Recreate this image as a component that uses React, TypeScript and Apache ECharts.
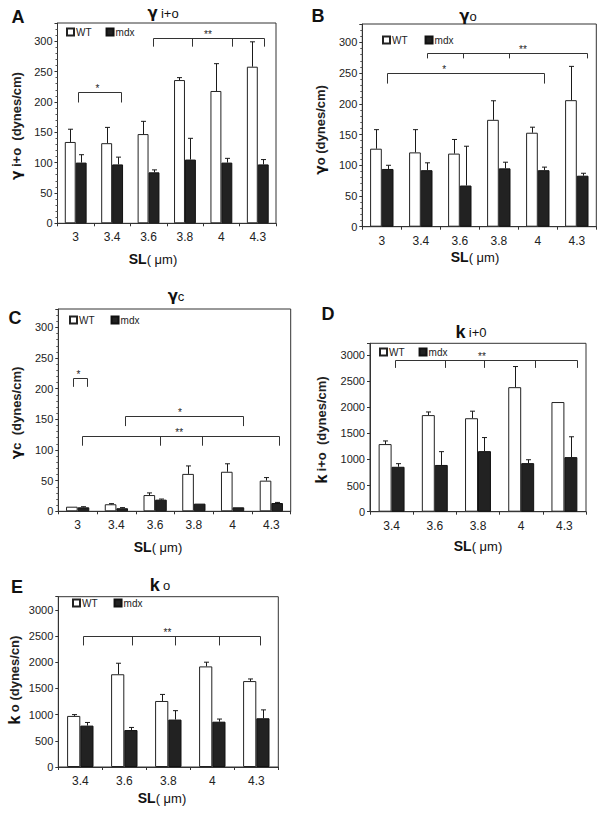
import React, { useEffect, useRef } from 'react';
import * as echarts from 'echarts';

const CATS_6 = ['3', '3.4', '3.6', '3.8', '4', '4.3'];
const CATS_5 = ['3.4', '3.6', '3.8', '4', '4.3'];

// Panel A: gamma i+o
const A_WT = [134, 132, 147, 236, 218, 258];
const A_WT_ERR = [155, 158, 168, 240, 263, 299];
const A_MDX = [100, 97, 84, 105, 100, 97];
const A_MDX_ERR = [113, 109, 88, 140, 107, 105];

// Panel B: gamma o
const B_WT = [127, 121, 119, 174, 153, 206];
const B_WT_ERR = [158, 158, 142, 205, 162, 261];
const B_MDX = [94, 92, 67, 95, 92, 83];
const B_MDX_ERR = [100, 104, 131, 105, 97, 87];

// Panel C: gamma c
const C_WT = [7.5, 11.5, 26.5, 61, 64.5, 50];
const C_WT_ERR = [8, 12.5, 30, 74, 77.5, 55];
const C_MDX = [6.5, 5, 19, 12.5, 6.5, 13.5];
const C_MDX_ERR = [7.5, 6, 20, 12.5, 6.5, 14.5];

// Panel D: k i+o
const D_WT = [1295, 1850, 1790, 2385, 2100];
const D_WT_ERR = [1355, 1910, 1925, 2780, 2100];
const D_MDX = [860, 895, 1160, 930, 1045];
const D_MDX_ERR = [920, 1150, 1420, 995, 1435];

// Panel E: k o
const E_WT = [975, 1770, 1260, 1920, 1640];
const E_WT_ERR = [1000, 1980, 1385, 2000, 1680];
const E_MDX = [790, 705, 905, 865, 930];
const E_MDX_ERR = [850, 755, 1075, 915, 1090];

// Significance brackets: tick positions in category units, bracket level, drop level, star
const BR_A = [
  { ticks: [0.07, 1.23], y: 216, drop: 199, star: '*', sx: 0.6 },
  { ticks: [2.13, 3.2, 4.29, 5.18], y: 305, drop: 291, star: '**', sx: 3.63 },
];
const BR_B = [
  { ticks: [0.14, 4.17], y: 250, drop: 233, star: '*', sx: 1.6 },
  { ticks: [1.15, 2.08, 3.26, 5.26], y: 283, drop: 274, star: '**', sx: 3.62 },
];
const BR_C = [
  { ticks: [-0.11, 0.24], y: 218, drop: 203, star: '*', sx: 0.02 },
  { ticks: [1.21, 4.28], y: 156, drop: 139, star: '*', sx: 2.64 },
  { ticks: [0.11, 2.13, 3.2, 5.2], y: 123, drop: 107, star: '**', sx: 2.62 },
];
const BR_D = [
  { ticks: [0.09, 1.24, 2.15, 3.32, 4.29], y: 2914, drop: 2754, star: '**', sx: 2.09 },
];
const BR_E = [
  { ticks: [0.05, 1.18, 2.15, 3.16, 4.08], y: 2500, drop: 2320, star: '**', sx: 1.98 },
];

const FONT = '"Liberation Sans", Arial, sans-serif';
const GFONT = '"DejaVu Sans", "Liberation Sans", sans-serif';
const INK = '#1a1a1a';

type Panel = {
  cats: string[];
  wt: number[]; wtErr: number[]; mdx: number[]; mdxErr: number[];
  brackets: { ticks: number[]; y: number; drop: number; star: string; sx: number }[];
  grid: { left: number; top: number; width: number; height: number };
  max: number; interval: number; minor: boolean;
  legend: { left: number; top: number; gap: number };
};

const PANELS: Panel[] = [
  {
    cats: CATS_6, wt: A_WT, wtErr: A_WT_ERR, mdx: A_MDX, mdxErr: A_MDX_ERR, brackets: BR_A,
    grid: { left: 57.5, top: 23, width: 218.5, height: 200.3 }, max: 330, interval: 50, minor: true,
    legend: { left: 66, top: 27, gap: 14 },
  },
  {
    cats: CATS_6, wt: B_WT, wtErr: B_WT_ERR, mdx: B_MDX, mdxErr: B_MDX_ERR, brackets: BR_B,
    grid: { left: 362.3, top: 24, width: 234, height: 202.7 }, max: 330, interval: 50, minor: true,
    legend: { left: 382, top: 35, gap: 17 },
  },
  {
    cats: CATS_6, wt: C_WT, wtErr: C_WT_ERR, mdx: C_MDX, mdxErr: C_MDX_ERR, brackets: BR_C,
    grid: { left: 58.3, top: 309, width: 232.4, height: 202.3 }, max: 330, interval: 50, minor: true,
    legend: { left: 69, top: 315, gap: 16 },
  },
  {
    cats: CATS_5, wt: D_WT, wtErr: D_WT_ERR, mdx: D_MDX, mdxErr: D_MDX_ERR, brackets: BR_D,
    grid: { left: 370, top: 343.3, width: 216, height: 168.4 }, max: 3225, interval: 500, minor: false,
    legend: { left: 379, top: 347, gap: 14 },
  },
  {
    cats: CATS_5, wt: E_WT, wtErr: E_WT_ERR, mdx: E_MDX, mdxErr: E_MDX_ERR, brackets: BR_E,
    grid: { left: 58.3, top: 596.7, width: 220, height: 170.3 }, max: 3250, interval: 500, minor: false,
    legend: { left: 72, top: 598, gap: 16 },
  },
];

function errorRenderer(offset: number) {
  return (params: any, api: any) => {
    const p0 = api.coord([api.value(0), api.value(1)]);
    const p1 = api.coord([api.value(0), api.value(2)]);
    if (p1[1] >= p0[1] - 0.5) return null;
    const band = api.size([1, 0])[0];
    const x = Math.round(p0[0] + offset * band) + 0.5;
    const style = { stroke: INK, lineWidth: 1 };
    return {
      type: 'group',
      children: [
        { type: 'line', shape: { x1: x, y1: p0[1], x2: x, y2: p1[1] }, style },
        { type: 'line', shape: { x1: x - 2.5, y1: p1[1], x2: x + 2.5, y2: p1[1] }, style },
      ],
    };
  };
}

function bracketRenderer(brs: Panel['brackets']) {
  return (params: any, api: any) => {
    const b = brs[params.dataIndex];
    const band = api.size([1, 0])[0];
    const base = api.coord([0, b.y]);
    const yTop = Math.round(base[1]) + 0.5;
    const yDrop = api.coord([0, b.drop])[1];
    const xs = b.ticks.map((t) => Math.round(base[0] + t * band) + 0.5);
    const style = { stroke: '#333', lineWidth: 1 };
    const children: any[] = [
      { type: 'line', shape: { x1: xs[0], y1: yTop, x2: xs[xs.length - 1], y2: yTop }, style },
    ];
    xs.forEach((x) => {
      children.push({ type: 'line', shape: { x1: x, y1: yTop, x2: x, y2: yDrop }, style });
    });
    children.push({
      type: 'text',
      x: base[0] + b.sx * band,
      y: yTop - 4,
      style: { text: b.star, fill: '#222', fontSize: 10, fontFamily: FONT, align: 'center', verticalAlign: 'middle' },
    });
    return { type: 'group', children };
  };
}

const g = { fontSize: 15, fontWeight: 'bold', fontFamily: GFONT, fill: '#111' };
const sub = { fontSize: 13, fontFamily: FONT, fill: '#111' };
const kStyle = { fontSize: 18, fontWeight: 'bold', fontFamily: FONT, fill: '#111' };

function txt(x: number, y: number, text: string, rich: any, rotation = 0) {
  return {
    type: 'text', x, y, rotation,
    style: { text, rich, align: 'center', verticalAlign: 'middle', fontFamily: FONT, fill: '#111' },
  };
}

function letter(x: number, y: number, t: string) {
  return {
    type: 'text', x, y,
    style: { text: t, fontSize: 18, fontWeight: 'bold', fontFamily: FONT, fill: '#111', align: 'center', verticalAlign: 'middle' },
  };
}

const nameRich = {
  g: { fontSize: 14, fontWeight: 'bold', fontFamily: GFONT, fill: '#111' },
  k: { fontSize: 16, fontWeight: 'bold', fontFamily: FONT, fill: '#111' },
  r: { fontSize: 13, fontWeight: 'bold', fontFamily: FONT, fill: '#222' },
};
const slRich = {
  b: { fontSize: 14, fontWeight: 'bold', fontFamily: FONT, fill: '#111' },
  r: { fontSize: 13, fontFamily: FONT, fill: '#111' },
};

export default function App() {
  const ref = useRef<HTMLDivElement>(null);
  useEffect(() => {
    document.body.style.margin = '0';
    if (!ref.current) return;
    const chart = echarts.init(ref.current, null, { renderer: 'svg' });

    const grid: any[] = [];
    const xAxis: any[] = [];
    const yAxis: any[] = [];
    const series: any[] = [];
    const legend: any[] = [];

    PANELS.forEach((p, i) => {
      grid.push({ ...p.grid, show: true, borderColor: '#333', borderWidth: 1, backgroundColor: 'transparent' });
      xAxis.push({
        type: 'category', gridIndex: i, data: p.cats,
        axisLine: { lineStyle: { color: '#333', width: 1 } },
        axisTick: { show: true, length: 3, lineStyle: { color: '#333' } },
        axisLabel: { fontSize: 12, color: '#222', margin: 8, fontFamily: FONT },
      });
      yAxis.push({
        type: 'value', gridIndex: i, min: 0, max: p.max, interval: p.interval,
        axisLine: { show: true, lineStyle: { color: '#333', width: 1 } },
        axisTick: { show: true, length: 3, lineStyle: { color: '#333' } },
        minorTick: { show: p.minor, splitNumber: 5, length: 2, lineStyle: { color: '#555' } },
        splitLine: { show: false },
        axisLabel: {
          fontSize: 11, color: '#222', margin: 5, fontFamily: FONT,
          formatter: (v: number) => (v % p.interval === 0 ? String(v) : ''),
        },
      });
      series.push({
        name: 'WT', type: 'bar', xAxisIndex: i, yAxisIndex: i, data: p.wt,
        barWidth: '30%', barGap: '0%',
        itemStyle: { color: '#ffffff', borderColor: '#222', borderWidth: 1 },
      });
      series.push({
        name: 'mdx', type: 'bar', xAxisIndex: i, yAxisIndex: i, data: p.mdx,
        barWidth: '30%', barGap: '0%',
        itemStyle: { color: '#222222', borderColor: '#111', borderWidth: 1 },
      });
      series.push({
        type: 'custom', xAxisIndex: i, yAxisIndex: i, z: 5,
        itemStyle: { color: INK },
        data: p.wt.map((v, k) => [k, v, p.wtErr[k]]),
        encode: { x: 0, y: [1, 2] },
        renderItem: errorRenderer(-0.15),
      });
      series.push({
        type: 'custom', xAxisIndex: i, yAxisIndex: i, z: 5,
        itemStyle: { color: INK },
        data: p.mdx.map((v, k) => [k, v, p.mdxErr[k]]),
        encode: { x: 0, y: [1, 2] },
        renderItem: errorRenderer(0.15),
      });
      series.push({
        type: 'custom', xAxisIndex: i, yAxisIndex: i, z: 6,
        itemStyle: { color: '#222' },
        data: p.brackets.map((b, k) => [0, b.y, b.drop, k]),
        encode: { x: 0, y: [1, 2] },
        renderItem: bracketRenderer(p.brackets),
      });
      legend.push({
        data: ['WT', 'mdx'], left: p.legend.left, top: p.legend.top,
        itemWidth: 7, itemHeight: 7, itemGap: p.legend.gap, icon: 'rect',
        selectedMode: false, padding: 0,
        textStyle: { fontSize: 10, color: '#222', fontFamily: FONT, padding: [0, 0, 0, -3] },
      });
    });

    const graphic = [
      letter(18, 17, 'A'), letter(318, 16, 'B'), letter(15, 318, 'C'), letter(328, 314, 'D'), letter(17, 587, 'E'),
      txt(163, 13, '{g|γ} {s|i+o}', { g, s: sub }),
      txt(468, 16, '{g|γ}{s|o}', { g, s: sub }),
      txt(176, 296, '{g|γ}{s|c}', { g, s: sub }),
      txt(471, 332, '{k|k} {s|i+0}', { k: kStyle, s: sub }),
      txt(160, 585, '{k|k} {s|o}', { k: kStyle, s: sub }),
      txt(153, 259, '{b|SL}{r|( μm)}', slRich),
      txt(475, 257, '{b|SL}{r|( μm)}', slRich),
      txt(158, 547, '{b|SL}{r|( μm)}', slRich),
      txt(478, 546, '{b|SL}{r|( μm)}', slRich),
      txt(162, 798, '{b|SL}{r|( μm)}', slRich),
      txt(16, 126, '{g|γ} {r|i+o  (dynes/cm)}', nameRich, Math.PI / 2),
      txt(320, 130, '{g|γ}{r|o (dynes/cm)}', nameRich, Math.PI / 2),
      txt(16, 413, '{g|γ}{r|c  (dynes/cm)}', nameRich, Math.PI / 2),
      txt(321, 430, '{k|k} {r|i+o  (dynes/cm)}', nameRich, Math.PI / 2),
      txt(14, 680, '{k|k} {r|o (dynes/cn)}', nameRich, Math.PI / 2),
    ];

    chart.setOption({
      animation: false,
      backgroundColor: '#ffffff',
      textStyle: { fontFamily: FONT },
      grid, xAxis, yAxis, series, legend, graphic,
    });
    return () => chart.dispose();
  }, []);
  return <div ref={ref} style={{ width: 602, height: 813 }} />;
}
